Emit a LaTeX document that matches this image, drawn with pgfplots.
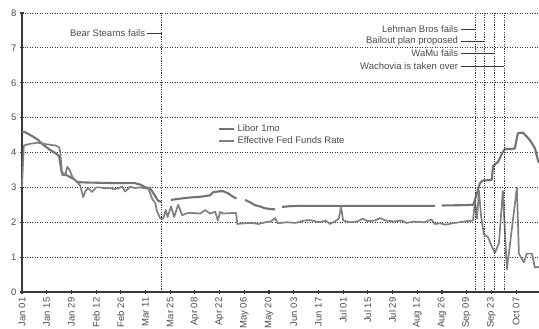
\documentclass[border=0pt]{standalone}
\usepackage{fontspec}
\setmainfont{Liberation Sans}
\usepackage{pgfplots}
\usepackage{pgfplotstable}
\pgfplotsset{compat=1.18}
\definecolor{txt}{RGB}{75,75,75}
\definecolor{lnA}{RGB}{115,115,115}
\definecolor{lnB}{RGB}{128,128,128}
\definecolor{axc}{RGB}{55,55,55}
\pgfplotstableread{
day val
0 4.59
1.5 4.59
4.7 4.50
8.7 4.38
12 4.22
16 4.07
19 3.98
21 3.90
22.5 3.42
24 3.38
26 3.33
29 3.25
31.5 3.15
36 3.14
45 3.13
55 3.12
64 3.12
67 3.08
70 3.0
72.5 2.98
75.5 2.75
77 2.62
79 2.58
nan nan
84.5 2.64
88.5 2.67
95.3 2.71
101 2.73
106.6 2.77
108.3 2.86
112.3 2.89
114 2.89
116.8 2.83
119 2.75
121.5 2.68
nan nan
126.4 2.64
129.3 2.57
132 2.49
135 2.45
137.8 2.40
140.6 2.38
143.4 2.37
nan nan
147.4 2.44
152 2.46
157.6 2.47
180 2.47
200 2.47
220 2.47
234 2.47
nan nan
238 2.48
250 2.49
255.6 2.50
256.7 2.64
259.5 3.12
261.2 3.20
263 3.20
266.3 3.22
266.9 3.60
268.6 3.69
269.7 3.72
272 3.97
273.7 4.10
277.6 4.10
279.3 4.12
281 4.55
283.9 4.57
287.8 4.36
290.7 4.12
292.4 3.78
293 3.70
}\libor
\pgfplotstableread{
day val
0 3.0
1 4.20
4.7 4.25
8.7 4.28
12 4.25
16 4.22
19 4.20
21 4.15
21.7 4.0
22.8 3.35
24.5 3.35
25.7 3.59
27 3.50
28.5 3.30
31.3 3.15
33 3.05
34.7 2.72
36 2.90
37.5 2.98
39.8 2.87
42 3.0
44 3.0
47 2.97
50 2.98
52 2.95
54.5 2.97
56.8 3.02
58.5 2.88
61.3 3.02
64 2.98
67 3.0
69.8 2.97
71.5 2.97
74 2.65
75.5 2.55
76.6 2.30
78.3 2.12
80 2.10
81.5 2.35
82.5 2.15
84.5 2.45
86.2 2.15
88.5 2.50
90.8 2.20
93 2.25
95.3 2.27
101 2.25
103.8 2.35
106.6 2.25
109.5 2.30
111 2.05
112.3 2.30
114 2.25
117.4 2.26
121.3 2.27
122 1.95
126 1.97
130 1.98
134 1.95
138 2.0
141 2.02
143.4 2.12
145 1.97
150 2.0
155 1.98
160 2.05
163 2.06
168.9 2.0
172 2.05
174.6 1.95
177.4 2.03
179.5 2.10
180.8 2.44
182 2.05
185.9 2.0
190 2.02
193 2.10
196 2.03
200 2.05
203 2.12
206 2.05
211 2.02
215 2.05
218 1.98
222 2.02
228 2.0
232 2.08
234 1.95
237 1.97
240 1.93
244 1.97
248 2.0
252 2.03
255.6 2.05
256.7 2.60
257.8 2.10
259 2.90
260.1 2.20
261.8 1.65
264 1.58
266.3 1.30
268 1.12
270.3 1.40
272.5 2.90
274.8 0.65
280.5 3.0
281.6 1.10
284.4 0.85
286.1 1.10
289 1.10
290.7 0.70
293 0.72
}\fedfunds
\begin{document}
\begin{tikzpicture}
\begin{axis}[
  scale only axis, width=517pt, height=279pt,
  xmin=0, xmax=293, ymin=0, ymax=8,
  axis x line=bottom, axis y line=left,
  axis line style={-, line width=1.7pt, axc},
  ytick={0,1,...,8},
  xtick={0,14,...,280},
  xticklabels={Jan 01,Jan 15,Jan 29,Feb 12,Feb 26,Mar 11,Mar 25,Apr 08,Apr 22,May 06,May 20,Jun 03,Jun 17,Jul 01,Jul 15,Jul 29,Aug 12,Aug 26,Sep 09,Sep 23,Oct 07},
  x tick label style={rotate=90, anchor=east},
  tick label style={font=\fontsize{9.5}{11}\selectfont, text=txt},
  /pgf/number format/assume math mode=true,
  ymajorgrids, grid style={dash pattern=on 1.2pt off 1.3pt, line width=0.8pt, axc},
  tick style={axc, line width=1.1pt}, major tick length=4pt, tick align=center,
  unbounded coords=jump,
  legend style={at={(axis cs:109.5,4.92)}, anchor=north west, draw=none, fill=none,
    font=\fontsize{9.5}{11}\selectfont, text=txt, row sep=0pt,
    legend cell align=left},
  legend image code/.code={\draw[#1] (0pt,0pt) -- (15pt,0pt);},
  clip=false,
]
\addplot[lnA, line width=2.1pt, line join=round] table[x=day, y=val] {\libor};
\addlegendentry{Libor 1mo}
\addplot[lnB, line width=1.7pt, line join=round] table[x=day, y=val] {\fedfunds};
\addlegendentry{Effective Fed Funds Rate}
% event lines
\draw[axc, line width=0.9pt, dash pattern=on 1.2pt off 1.2pt] (axis cs:79.3,0) -- (axis cs:79.3,8);
\draw[axc, line width=0.9pt, dash pattern=on 1.2pt off 1.2pt] (axis cs:256.7,0) -- (axis cs:256.7,8);
\draw[axc, line width=0.9pt, dash pattern=on 1.2pt off 1.2pt] (axis cs:261.8,0) -- (axis cs:261.8,8);
\draw[axc, line width=0.9pt, dash pattern=on 1.2pt off 1.2pt] (axis cs:268,0) -- (axis cs:268,8);
\draw[axc, line width=0.9pt, dash pattern=on 1.2pt off 1.2pt] (axis cs:273.3,0) -- (axis cs:273.3,8);
\node[anchor=east, inner sep=1pt, font=\fontsize{9.5}{11}\selectfont, text=txt] at (axis cs:70.4,7.42) {Bear Stearns fails};
\draw[axc, line width=0.7pt] (axis cs:71,7.42) -- (axis cs:79.3,7.42);
\node[anchor=east, inner sep=1pt, font=\fontsize{9.5}{11}\selectfont, text=txt] at (axis cs:247.8,7.53) {Lehman Bros fails};
\draw[axc, line width=0.7pt] (axis cs:248.7,7.53) -- (axis cs:256.7,7.53);
\node[anchor=east, inner sep=1pt, font=\fontsize{9.5}{11}\selectfont, text=txt] at (axis cs:247.8,7.20) {Bailout plan proposed};
\draw[axc, line width=0.7pt] (axis cs:248.7,7.20) -- (axis cs:261.8,7.20);
\node[anchor=east, inner sep=1pt, font=\fontsize{9.5}{11}\selectfont, text=txt] at (axis cs:247.8,6.85) {WaMu fails};
\draw[axc, line width=0.7pt] (axis cs:248.7,6.85) -- (axis cs:268,6.85);
\node[anchor=east, inner sep=1pt, font=\fontsize{9.5}{11}\selectfont, text=txt] at (axis cs:247.8,6.48) {Wachovia is taken over};
\draw[axc, line width=0.7pt] (axis cs:248.7,6.48) -- (axis cs:273.3,6.48);
\end{axis}
\pgfresetboundingbox
\path ([xshift=-22pt,yshift=-37pt]current axis.south west) rectangle ([yshift=13pt]current axis.north east);
\end{tikzpicture}
\end{document}
